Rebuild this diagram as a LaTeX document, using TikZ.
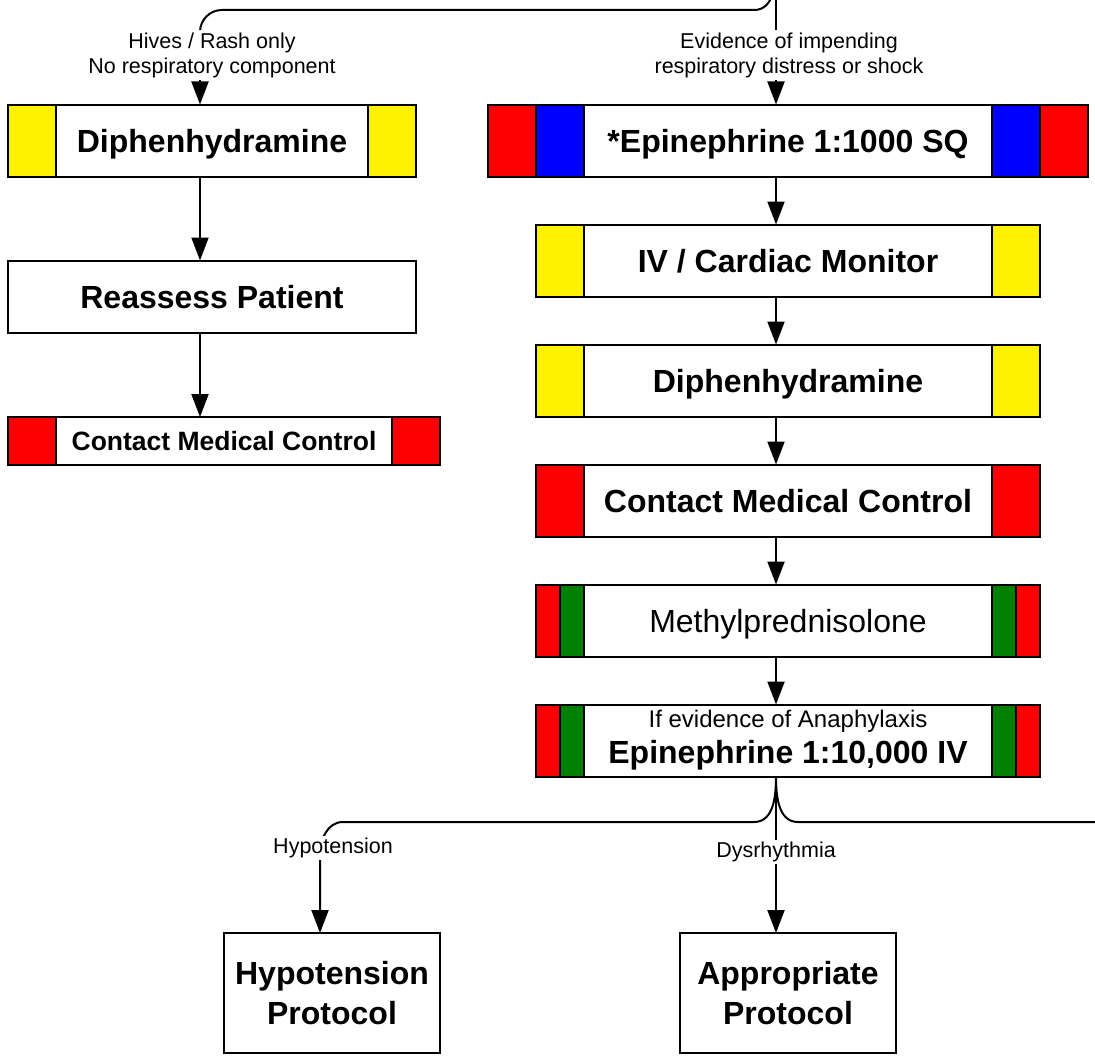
\documentclass[tikz,border=0pt]{standalone}
\usepackage{fontspec}
\setmainfont{Liberation Sans}
\usetikzlibrary{positioning, arrows.meta}
\definecolor{dgreen}{RGB}{0,128,0}

\tikzset{
  box/.style={draw, line width=2pt, fill=white, inner sep=0pt, outer sep=0pt,
    minimum height=72pt, align=center, font=\bfseries\fontsize{32}{36}\selectfont},
  oneline/.style={text height=23pt, text depth=0pt},
  bars/.style 2 args={path picture={
    \fill[#1] (path picture bounding box.north west) rectangle ([xshift=#2]path picture bounding box.south west);
    \fill[#1] (path picture bounding box.north east) rectangle ([xshift=-#2]path picture bounding box.south east);
    \draw[line width=2pt] ([xshift=#2]path picture bounding box.north west) -- ([xshift=#2]path picture bounding box.south west);
    \draw[line width=2pt] ([xshift=-#2]path picture bounding box.north east) -- ([xshift=-#2]path picture bounding box.south east);
  }},
  dbars/.style n args={3}{path picture={
    \fill[#1] (path picture bounding box.north west) rectangle ([xshift=#3]path picture bounding box.south west);
    \fill[#2] ([xshift=#3]path picture bounding box.north west) rectangle ([xshift=2*#3]path picture bounding box.south west);
    \fill[#1] (path picture bounding box.north east) rectangle ([xshift=-#3]path picture bounding box.south east);
    \fill[#2] ([xshift=-#3]path picture bounding box.north east) rectangle ([xshift=-2*#3]path picture bounding box.south east);
    \foreach \s in {1,2} {
      \draw[line width=2pt] ([xshift=\s*#3]path picture bounding box.north west) -- ([xshift=\s*#3]path picture bounding box.south west);
      \draw[line width=2pt] ([xshift=-\s*#3]path picture bounding box.north east) -- ([xshift=-\s*#3]path picture bounding box.south east);
    }
  }},
  line/.style={line width=2pt},
  arr/.style={line width=2pt, -{Triangle[length=23pt,width=17pt]}},
  lbl/.style={fill=white, inner sep=2pt, align=center, font=\fontsize{21.5}{25}\selectfont},
}

\begin{document}
\begin{tikzpicture}[x=1pt, y=-1pt]
    \useasboundingbox (0,0) rectangle (1095,1057);
    \clip (0,0) rectangle (1095,1057);

    % left branch
    \node[box, oneline, minimum width=408pt, bars={yellow}{48pt}] (ldiph) at (212,140.5) {Diphenhydramine};
    \node[box, oneline, minimum width=408pt, below=84pt of ldiph] (reassess) {Reassess Patient};
    \node[box, minimum width=432pt, minimum height=48pt, text height=19pt, text depth=0pt,
          font=\bfseries\fontsize{26.5}{30}\selectfont, bars={red}{48pt}] (lcmc) at (224,441) {Contact Medical Control};

    % right branch
    \node[box, oneline, minimum width=600pt, dbars={red}{blue}{48pt}] (episq) at (788,140.5) {*Epinephrine 1:1000 SQ};
    \node[box, oneline, minimum width=504pt, bars={yellow}{48pt}, below=48pt of episq] (ivmon) {IV / Cardiac Monitor};
    \node[box, oneline, minimum width=504pt, bars={yellow}{48pt}, below=48pt of ivmon] (rdiph) {Diphenhydramine};
    \node[box, oneline, minimum width=504pt, bars={red}{48pt}, below=48pt of rdiph] (rcmc) {Contact Medical Control};
    \node[box, oneline, minimum width=504pt, dbars={red}{dgreen}{24pt}, below=48pt of rcmc,
          font=\fontsize{32}{36}\selectfont] (methyl) {Methylprednisolone};
    \node[box, minimum width=504pt, dbars={red}{dgreen}{24pt}, below=48pt of methyl] (epiiv)
          {{\normalfont\fontsize{24}{28}\selectfont If evidence of Anaphylaxis}\\Epinephrine 1:10,000 IV};

    % protocols
    \node[box, minimum width=216pt, minimum height=120pt, font=\bfseries\fontsize{32}{40}\selectfont] (hypo) at (332,993) {Hypotension\\Protocol};
    \node[box, minimum width=216pt, minimum height=120pt, font=\bfseries\fontsize{32}{40}\selectfont] (approp) at (788,993) {Appropriate\\Protocol};

    \coordinate (fromabove) at (776,-34);
    \coordinate (offright) at (1100,822);

    % top split
    \draw[arr] (fromabove) to[out=-90,in=0] (754,10) -- (222,10) to[out=180,in=90] (200,32) -- ([xshift=-12pt]ldiph.north);
    \draw[arr] (fromabove) -- ([xshift=-12pt]episq.north);

    \draw[arr] ([xshift=-12pt]ldiph.south) -- ([xshift=-12pt]reassess.north);
    \draw[arr] ([xshift=-12pt]reassess.south) -- ([xshift=-24pt]lcmc.north);

    \draw[arr] ([xshift=-12pt]episq.south) -- ([xshift=-12pt]ivmon.north);
    \draw[arr] ([xshift=-12pt]ivmon.south) -- ([xshift=-12pt]rdiph.north);
    \draw[arr] ([xshift=-12pt]rdiph.south) -- ([xshift=-12pt]rcmc.north);
    \draw[arr] ([xshift=-12pt]rcmc.south) -- ([xshift=-12pt]methyl.north);
    \draw[arr] ([xshift=-12pt]methyl.south) -- ([xshift=-12pt]epiiv.north);

    % bottom split
    \draw[arr] ([xshift=-12pt]epiiv.south) to[out=-90,in=0] (754,822) -- (343,822) to[out=180,in=90] (320,856) -- ([xshift=-12pt]hypo.north);
    \draw[line] ([xshift=-12pt]epiiv.south) to[out=-90,in=180] (798,822) -- (offright);
    \draw[arr] ([xshift=-12pt]epiiv.south) -- ([xshift=-12pt]approp.north);

    \node[lbl] (hives) at (212,55) {Hives / Rash only\\No respiratory component};
    \node[lbl] (evid) at (789,55) {Evidence of impending\\respiratory distress or shock};
    \node[lbl] (hypolbl) at (333,848) {Hypotension};
    \node[lbl] (dysr) at (776,852) {Dysrhythmia};
\end{tikzpicture}
\end{document}
